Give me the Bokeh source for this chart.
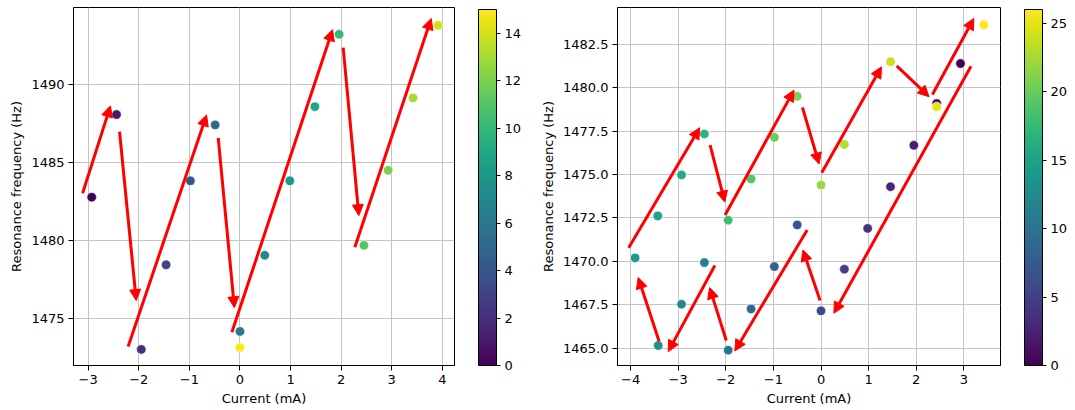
from bokeh.plotting import figure
from bokeh.layouts import row
from bokeh.models import (ColumnDataSource, LinearColorMapper, ColorBar, FixedTicker,
                          Arrow, NormalHead, Range1d, PrintfTickFormatter)
from bokeh.palettes import Viridis256
from bokeh.embed import file_html
from bokeh.resources import INLINE

FONT = "DejaVu Sans"

# ---------------- left panel data ----------------
left_current = [-2.93, -2.44, -1.95, -1.46, -0.98, -0.49, 0.0, 0.49, 0.985, 1.48,
                1.96, 2.45, 2.93, 3.42, 3.915, 0.0]
left_freq = [1482.75, 1488.04, 1473.0, 1478.42, 1483.8, 1487.38, 1474.15, 1479.03,
             1483.8, 1488.55, 1493.18, 1479.67, 1484.47, 1489.11, 1493.76, 1473.12]
left_index = list(range(16))

left_arrow_x0 = [-3.11, -2.38, -2.21, -0.43, -0.16, 2.04, 2.27]
left_arrow_y0 = [1483.0, 1486.95, 1473.19, 1486.55, 1474.1, 1492.33, 1479.55]
left_arrow_x1 = [-2.56, -2.05, -0.66, -0.11, 1.83, 2.35, 3.78]
left_arrow_y1 = [1488.6, 1476.13, 1488.02, 1475.67, 1493.48, 1481.57, 1494.2]

left_xticks = [-3, -2, -1, 0, 1, 2, 3, 4]
left_yticks = [1475, 1480, 1485, 1490]
left_cticks = [0, 2, 4, 6, 8, 10, 12, 14]

# ---------------- right panel data ----------------
right_current = [2.93, 2.43, 1.95, 1.46, 0.98, 0.49, 0.0, -0.50, -0.98, -1.47,
                 -1.95, -2.45, -2.93, -3.42, -3.905,
                 -3.43, -2.93, -2.45, -1.95, -1.47, -0.98, -0.50, 0.0, 0.49, 1.46,
                 2.43, 3.42]
right_freq = [1481.4, 1479.1, 1476.69, 1474.3, 1471.9, 1469.55, 1467.15, 1472.1,
              1469.70, 1467.26, 1464.88, 1469.93, 1467.53, 1465.15, 1470.2,
              1472.62, 1474.98, 1477.34, 1472.37, 1474.75, 1477.15, 1479.51,
              1474.4, 1476.74, 1481.5, 1478.9, 1483.63]
right_index = list(range(27))

right_arrow_x0 = [-4.04, -2.33, -2.015, -0.39, 0.015, 1.59, 2.34, 3.15, -0.02, -0.29,
                  -1.99, -2.23, -3.40]
right_arrow_y0 = [1470.79, 1476.7, 1472.67, 1478.87, 1475.11, 1481.27, 1479.62,
                  1481.25, 1467.74, 1471.81, 1465.44, 1469.76, 1465.38]
right_arrow_x1 = [-2.547, -2.02, -0.567, -0.04, 1.27, 2.27, 3.21, 0.27, -0.38, -1.81,
                  -2.34, -3.21, -3.84]
right_arrow_y1 = [1477.70, 1473.42, 1479.87, 1475.61, 1481.21, 1479.49, 1484.0,
                  1467.01, 1470.66, 1464.84, 1468.49, 1464.8, 1469.07]

right_xticks = [-4, -3, -2, -1, 0, 1, 2, 3]
right_yticks = [1465, 1467.5, 1470, 1472.5, 1475, 1477.5, 1480, 1482.5]
right_cticks = [0, 5, 10, 15, 20, 25]


def minus(v):
    return ("%g" % v).replace("-", "\u2212")


def make_panel(xs, ys, cs, ax0, ay0, ax1, ay1, xr, yr, xticks, yticks, cticks, chigh,
               width, border_left, border_right, yfmt):
    p = figure(width=width, height=408, output_backend="svg", toolbar_location=None,
               x_range=Range1d(*xr), y_range=Range1d(*yr),
               min_border_left=border_left, min_border_right=border_right,
               min_border_top=7, min_border_bottom=43)
    p.background_fill_color = "white"
    p.border_fill_color = "white"
    p.outline_line_color = "black"
    p.outline_line_width = 1

    mapper = LinearColorMapper(palette=Viridis256, low=0, high=chigh)
    src = ColumnDataSource(dict(x=xs, y=ys, c=cs))
    p.scatter("x", "y", source=src, size=9.5,
              fill_color={"field": "c", "transform": mapper},
              line_color="white", line_width=0.6)

    asrc = ColumnDataSource(dict(x0=ax0, y0=ay0, x1=ax1, y1=ay1))
    p.add_layout(Arrow(end=NormalHead(size=11, fill_color="red", line_color="red", line_width=1),
                       x_start="x0", y_start="y0", x_end="x1", y_end="y1", source=asrc,
                       line_color="red", line_width=3))

    p.xaxis.ticker = FixedTicker(ticks=xticks)
    p.yaxis.ticker = FixedTicker(ticks=yticks)
    p.xaxis.major_label_overrides = {t: minus(t) for t in xticks}
    if yfmt:
        p.yaxis.formatter = PrintfTickFormatter(format=yfmt)
    p.xaxis.axis_label = "Current (mA)"
    p.yaxis.axis_label = "Resonance frequency (Hz)"
    for ax in (p.xaxis[0], p.yaxis[0]):
        ax.axis_label_text_font = FONT
        ax.axis_label_text_font_size = "13px"
        ax.axis_label_text_font_style = "normal"
        ax.axis_label_text_color = "black"
        ax.major_label_text_font = FONT
        ax.major_label_text_font_size = "13px"
        ax.major_label_text_color = "black"
        ax.major_tick_out = 5
        ax.major_tick_in = 0
        ax.minor_tick_out = 0
        ax.minor_tick_in = 0
        ax.major_tick_line_color = "black"
        ax.axis_line_color = "black"
        ax.major_label_standoff = 4
        ax.axis_label_standoff = 4
    p.grid.grid_line_color = "#c4c4c4"
    p.grid.grid_line_width = 1
    p.xgrid.ticker = FixedTicker(ticks=xticks)
    p.ygrid.ticker = FixedTicker(ticks=yticks)

    cb = ColorBar(color_mapper=mapper, ticker=FixedTicker(ticks=cticks), width=18, height=356,
                  margin=0, padding=0, location=(24, 0),
                  major_tick_in=0, major_tick_out=4, major_tick_line_color="black",
                  bar_line_color="black", bar_line_width=1,
                  major_label_text_font=FONT, major_label_text_font_size="13px",
                  major_label_text_color="black", label_standoff=4,
                  background_fill_alpha=0, border_line_color=None)
    p.add_layout(cb, "right")
    return p


p1 = make_panel(left_current, left_freq, left_index,
                left_arrow_x0, left_arrow_y0, left_arrow_x1, left_arrow_y1,
                (-3.29, 4.24), (1471.97, 1494.9), left_xticks, left_yticks, left_cticks, 15,
                536, 73, 82, None)
p2 = make_panel(right_current, right_freq, right_index,
                right_arrow_x0, right_arrow_y0, right_arrow_x1, right_arrow_y1,
                (-4.275, 3.77), (1464.0, 1484.63), right_xticks, right_yticks, right_cticks, 26,
                534, 81, 70, "%.1f")

layout = row(p1, p2)
open("out.html", "w").write(file_html(layout, INLINE))
